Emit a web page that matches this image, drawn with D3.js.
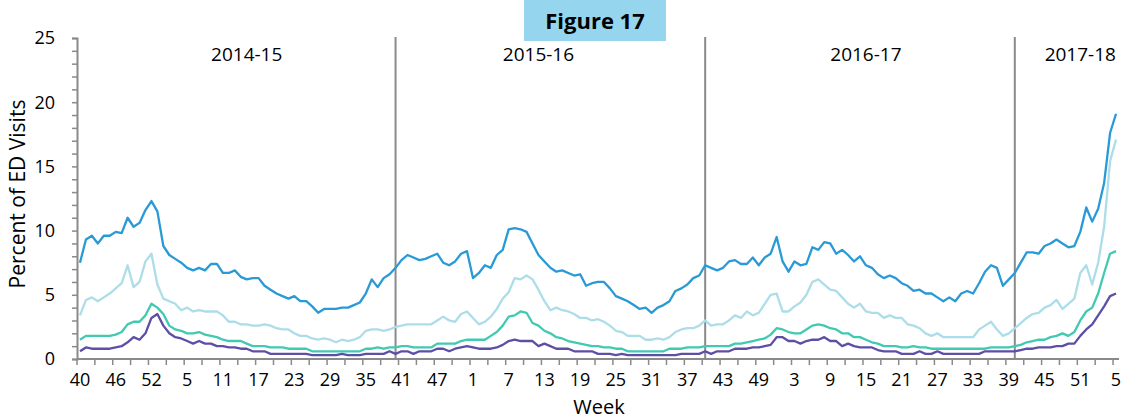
<!DOCTYPE html>
<html>
<head>
<meta charset="utf-8">
<script src="https://d3js.org/d3.v7.min.js"></script>
<style>
  body { margin: 0; background: #fff; }
  svg { display: block; font-family: 'Open Sans', sans-serif; }
</style>
</head>
<body>
<svg></svg>
<script>
(function() {

  // weeks in each MMWR year covered (2014-15 season to week 5 of 2018)
  const yearWeeks = [{year: 2014, from: 40, to: 53},
                     {year: 2015, from: 1, to: 52},
                     {year: 2016, from: 1, to: 52},
                     {year: 2017, from: 1, to: 52},
                     {year: 2018, from: 1, to: 5}]

  const seasons = ['2014-15', '2015-16', '2016-17', '2017-18']
  const seasonStart = [0, 53, 105, 157]
  const seasonLabelAt = [28, 77, 132, 168]

  const yTicks = [0, 5, 10, 15, 20, 25]

  const series1 = [
    7.5, 9.3, 9.6, 9.0, 9.6, 9.6, 9.9, 9.8, 11.0, 10.3,
    10.6, 11.6, 12.3, 11.5, 8.8, 8.1, 7.8, 7.5, 7.1, 6.9,
    7.1, 6.9, 7.4, 7.4, 6.7, 6.7, 6.9, 6.4, 6.2, 6.3,
    6.3, 5.7, 5.4, 5.1, 4.9, 4.7, 4.9, 4.5, 4.5, 4.1,
    3.6, 3.9, 3.9, 3.9, 4.0, 4.0, 4.2, 4.4, 5.1, 6.2,
    5.6, 6.3, 6.6, 7.1, 7.7, 8.1, 7.9, 7.7, 7.8, 8.0,
    8.2, 7.5, 7.3, 7.6, 8.2, 8.4, 6.3, 6.7, 7.3, 7.1,
    8.1, 8.5, 10.1, 10.2, 10.1, 9.9, 9.0, 8.1, 7.6, 7.1,
    6.8, 6.9, 6.7, 6.5, 6.6, 5.7, 5.9, 6.0, 6.0, 5.5,
    4.9, 4.7, 4.5, 4.2, 3.9, 4.0, 3.6, 4.0, 4.2, 4.5,
    5.3, 5.5, 5.8, 6.3, 6.5, 7.3, 7.1, 6.9, 7.1, 7.6,
    7.7, 7.4, 7.4, 7.9, 7.3, 7.9, 8.2, 9.5, 7.6, 6.8,
    7.6, 7.3, 7.4, 8.7, 8.5, 9.1, 9.0, 8.2, 8.5, 8.1,
    7.6, 8.0, 7.3, 7.1, 6.6, 6.3, 6.5, 6.3, 5.9, 5.7,
    5.3, 5.4, 5.1, 5.1, 4.8, 4.5, 4.8, 4.5, 5.1, 5.3,
    5.1, 5.9, 6.8, 7.3, 7.1, 5.7, 6.2, 6.7, 7.5, 8.3,
    8.3, 8.2, 8.8, 9.0, 9.3, 9.0, 8.7, 8.8, 9.9, 11.8,
    10.7, 11.7, 13.7, 17.6, 19.1]

  const series2 = [
    3.4, 4.6, 4.8, 4.5, 4.8, 5.1, 5.5, 5.9, 7.3, 5.6,
    6.0, 7.6, 8.2, 5.8, 4.7, 4.5, 4.3, 3.8, 4.0, 3.7,
    3.8, 3.7, 3.7, 3.7, 3.4, 2.9, 2.9, 2.7, 2.7, 2.6,
    2.6, 2.7, 2.6, 2.4, 2.3, 2.3, 2.0, 1.8, 1.8, 1.6,
    1.5, 1.6, 1.5, 1.3, 1.5, 1.4, 1.5, 1.7, 2.2, 2.3,
    2.3, 2.2, 2.3, 2.5, 2.6, 2.7, 2.7, 2.7, 2.7, 2.7,
    3.0, 3.3, 3.0, 2.9, 3.5, 3.7, 3.2, 2.7, 2.9, 3.3,
    3.9, 4.7, 5.2, 6.3, 6.2, 6.5, 6.2, 5.4, 4.5, 3.8,
    4.0, 3.8, 3.7, 3.5, 3.2, 3.2, 3.0, 3.1, 2.9, 2.6,
    2.2, 2.1, 1.8, 1.8, 1.8, 1.5, 1.5, 1.6, 1.5, 1.7,
    2.1, 2.3, 2.4, 2.4, 2.6, 3.0, 2.6, 2.7, 2.7, 3.0,
    3.4, 3.2, 3.7, 3.4, 3.6, 4.3, 5.0, 5.1, 3.7, 3.7,
    4.1, 4.4, 5.0, 6.0, 6.2, 5.8, 5.4, 5.3, 4.8, 4.3,
    4.0, 4.3, 3.7, 3.6, 3.6, 3.2, 3.4, 3.2, 3.2, 2.7,
    2.6, 2.4, 2.0, 1.8, 2.0, 1.7, 1.7, 1.7, 1.7, 1.7,
    1.7, 2.3, 2.6, 2.9, 2.3, 1.8, 2.0, 2.4, 2.8, 3.2,
    3.5, 3.6, 4.0, 4.2, 4.6, 3.9, 4.3, 4.7, 6.7, 7.3,
    5.8, 7.5, 10.3, 15.4, 17.1]

  const series3 = [
    1.5, 1.8, 1.8, 1.8, 1.8, 1.8, 1.9, 2.1, 2.7, 2.9,
    2.9, 3.4, 4.3, 4.0, 3.5, 2.6, 2.3, 2.2, 2.0, 2.0,
    2.1, 1.9, 1.8, 1.7, 1.5, 1.4, 1.4, 1.4, 1.2, 1.0,
    1.0, 1.0, 0.9, 0.9, 0.9, 0.8, 0.8, 0.8, 0.8, 0.6,
    0.6, 0.6, 0.6, 0.6, 0.6, 0.6, 0.6, 0.6, 0.8, 0.8,
    0.9, 0.8, 0.9, 0.9, 1.0, 1.0, 0.9, 0.9, 0.9, 0.9,
    1.2, 1.2, 1.2, 1.2, 1.4, 1.5, 1.5, 1.5, 1.5, 1.8,
    2.1, 2.6, 3.3, 3.4, 3.7, 3.6, 2.8, 2.6, 2.2, 2.0,
    1.7, 1.6, 1.4, 1.3, 1.2, 1.1, 1.0, 1.0, 0.9, 0.9,
    0.8, 0.8, 0.6, 0.6, 0.6, 0.6, 0.6, 0.6, 0.6, 0.8,
    0.8, 0.8, 0.9, 0.9, 0.9, 1.0, 1.0, 1.0, 1.0, 1.0,
    1.2, 1.2, 1.3, 1.4, 1.5, 1.6, 1.9, 2.4, 2.3, 2.1,
    2.0, 2.0, 2.3, 2.6, 2.7, 2.6, 2.4, 2.3, 2.0, 2.0,
    1.7, 1.7, 1.5, 1.3, 1.2, 1.0, 1.0, 1.0, 0.9, 0.9,
    1.0, 0.9, 0.9, 0.8, 0.8, 0.8, 0.8, 0.8, 0.8, 0.8,
    0.8, 0.8, 0.8, 0.9, 0.9, 0.9, 0.9, 1.0, 1.1, 1.3,
    1.4, 1.5, 1.5, 1.7, 1.8, 2.0, 1.8, 2.1, 3.0, 3.7,
    4.0, 5.1, 6.7, 8.2, 8.4]

  const series4 = [
    0.6, 0.9, 0.8, 0.8, 0.8, 0.8, 0.9, 1.0, 1.3, 1.7,
    1.5, 2.0, 3.2, 3.5, 2.6, 2.0, 1.7, 1.6, 1.4, 1.2,
    1.4, 1.2, 1.2, 1.0, 1.0, 0.9, 0.9, 0.8, 0.8, 0.6,
    0.6, 0.6, 0.4, 0.4, 0.4, 0.4, 0.4, 0.4, 0.4, 0.3,
    0.3, 0.3, 0.3, 0.3, 0.4, 0.3, 0.3, 0.3, 0.4, 0.4,
    0.4, 0.4, 0.6, 0.4, 0.6, 0.6, 0.4, 0.6, 0.6, 0.6,
    0.8, 0.8, 0.6, 0.8, 0.9, 1.0, 0.9, 0.8, 0.8, 0.8,
    0.9, 1.1, 1.4, 1.5, 1.4, 1.4, 1.4, 1.0, 1.2, 1.0,
    0.8, 0.8, 0.8, 0.6, 0.6, 0.6, 0.6, 0.4, 0.4, 0.4,
    0.3, 0.4, 0.3, 0.3, 0.3, 0.3, 0.3, 0.3, 0.3, 0.3,
    0.3, 0.4, 0.4, 0.4, 0.4, 0.6, 0.4, 0.6, 0.6, 0.6,
    0.8, 0.8, 0.8, 0.9, 0.9, 1.0, 1.1, 1.7, 1.7, 1.4,
    1.4, 1.2, 1.4, 1.5, 1.5, 1.7, 1.4, 1.4, 1.0, 1.2,
    1.0, 0.9, 0.9, 0.9, 0.7, 0.6, 0.6, 0.6, 0.4, 0.4,
    0.4, 0.6, 0.4, 0.4, 0.6, 0.4, 0.4, 0.4, 0.4, 0.4,
    0.4, 0.4, 0.6, 0.6, 0.6, 0.6, 0.6, 0.6, 0.7, 0.8,
    0.8, 0.9, 0.9, 0.9, 1.0, 1.0, 1.2, 1.2, 1.8, 2.3,
    2.7, 3.4, 4.1, 4.9, 5.1]

  const seriesColors = ['#2a9ad6', '#acdde9', '#41c9b1', '#5d4ea6']

  // week numbers along the category axis
  const weeks = []
  for (let y of yearWeeks) {
    for (let w = y.from; w <= y.to; w++) weeks.push(w)
  }

  const svgWidth = 1134
  const svgHeight = 420
  const margin = {left: 77, right: 15, top: 38, bottom: 61}
  const axisColor = '#8a8a8a'

  const svg = d3.select('svg')
    .attr('width', svgWidth)
    .attr('height', svgHeight)

  const x = d3.scaleBand()
    .domain(d3.range(weeks.length))
    .range([margin.left, svgWidth - margin.right])
    .paddingInner(0).paddingOuter(0)

  const xc = i => x(i) + x.bandwidth() / 2

  const y = d3.scaleLinear()
    .domain([0, 25])
    .range([svgHeight - margin.bottom, margin.top])

  // title box
  svg.append('rect')
    .attr('x', 524).attr('y', 0)
    .attr('width', 142).attr('height', 41)
    .attr('fill', '#95d6ee')

  svg.append('text')
    .attr('x', 595).attr('y', 29)
    .attr('text-anchor', 'middle')
    .style('font-size', '22px')
    .style('font-weight', 'bold')
    .text('Figure 17')

  // season separators
  svg.selectAll('.separator')
    .data(seasonStart.slice(1))
    .enter()
    .append('line')
    .classed('separator', true)
    .attr('x1', d => xc(d)).attr('x2', d => xc(d))
    .attr('y1', y(25) - 1).attr('y2', y(0))
    .attr('stroke', axisColor)
    .attr('stroke-width', 2)

  svg.selectAll('.season')
    .data(seasons)
    .enter()
    .append('text')
    .classed('season', true)
    .attr('x', (d, i) => xc(seasonLabelAt[i]))
    .attr('y', 61)
    .attr('text-anchor', 'middle')
    .style('font-size', '19px')
    .text(d => d)

  // y axis
  const yAxis = svg.append('g')
    .attr('transform', `translate(${margin.left},0)`)
    .call(d3.axisLeft(y).tickValues(d3.range(0, 26, 1)).tickSize(5).tickFormat(''))

  yAxis.select('.domain').attr('stroke', axisColor).attr('stroke-width', 2)
  yAxis.selectAll('.tick line').attr('stroke', axisColor).attr('stroke-width', 1.5)

  svg.selectAll('.ylabel')
    .data(yTicks)
    .enter()
    .append('text')
    .classed('ylabel', true)
    .attr('x', 55)
    .attr('y', d => y(d))
    .attr('dy', '0.35em')
    .attr('text-anchor', 'end')
    .style('font-size', '18px')
    .text(d => d)

  // x axis
  const tickIdx = d3.range(0, weeks.length, 3)
  const xAxis = svg.append('g')
    .attr('transform', `translate(0,${y(0)})`)

  xAxis.append('line')
    .attr('x1', margin.left).attr('x2', svgWidth - margin.right)
    .attr('stroke', axisColor).attr('stroke-width', 2)

  xAxis.selectAll('.xtick')
    .data(tickIdx)
    .enter()
    .append('line')
    .classed('xtick', true)
    .attr('x1', d => x(d)).attr('x2', d => x(d))
    .attr('y1', 0).attr('y2', 6)
    .attr('stroke', axisColor).attr('stroke-width', 1.5)

  xAxis.selectAll('.xlabel')
    .data(d3.range(0, weeks.length, 6))
    .enter()
    .append('text')
    .classed('xlabel', true)
    .attr('x', d => xc(d))
    .attr('y', 27)
    .attr('text-anchor', 'middle')
    .style('font-size', '18px')
    .text(d => weeks[d])

  // axis titles
  svg.append('text')
    .attr('transform', 'translate(25,194) rotate(-90)')
    .attr('text-anchor', 'middle')
    .style('font-size', '21px')
    .text('Percent of ED Visits')

  svg.append('text')
    .attr('x', 599).attr('y', 414)
    .attr('text-anchor', 'middle')
    .style('font-size', '20px')
    .text('Week')

  // lines
  const line = d3.line()
    .x((d, i) => xc(i))
    .y(d => y(d))

  svg.selectAll('.series')
    .data([series1, series2, series3, series4])
    .enter()
    .append('path')
    .classed('series', true)
    .attr('d', line)
    .attr('fill', 'none')
    .attr('stroke', (d, i) => seriesColors[i])
    .attr('stroke-width', 2.3)
    .attr('stroke-linejoin', 'round')

})()
</script>
</body>
</html>
